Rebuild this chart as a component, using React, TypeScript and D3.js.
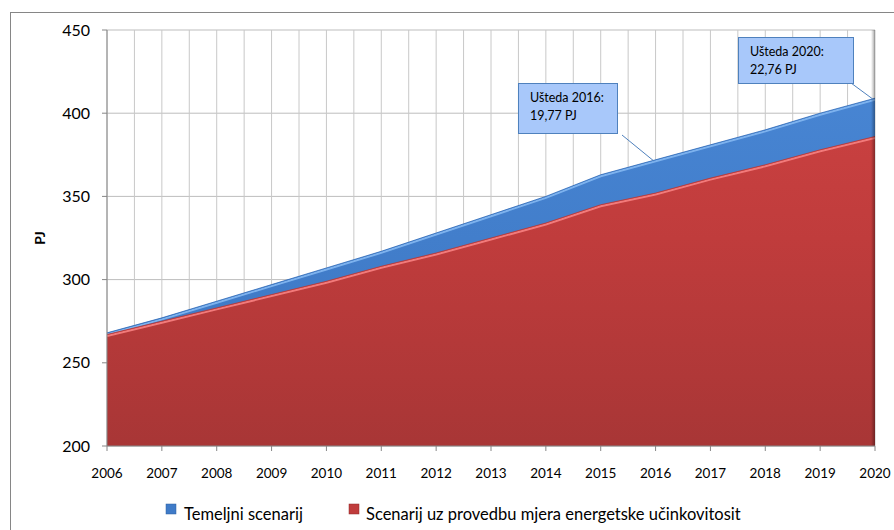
import React from "react";
import * as d3 from "d3";

const years = [2006, 2007, 2008, 2009, 2010, 2011, 2012, 2013, 2014, 2015, 2016, 2017, 2018, 2019, 2020];
const baseline = [268, 277, 287, 297, 307, 317, 328, 339, 350, 363, 372, 381, 390, 400, 409];
const efficiency = [267, 275, 283, 291, 299, 308, 316, 325, 334, 345, 352, 361, 369, 378, 386];
const yTicks = [200, 250, 300, 350, 400, 450];
const seriesNames = ["Temeljni scenarij", "Scenarij uz provedbu mjera energetske učinkovitosit"];
const callouts = [
  { year: 2016, lines: ["Ušteda 2016:", "19,77 PJ"] },
  { year: 2020, lines: ["Ušteda 2020:", "22,76 PJ"] },
];

const FONT = "Lato, 'Open Sans', 'Liberation Sans', sans-serif";

export default function App() {
  const W = 894, H = 530;
  const x0 = 107, x1 = 875, yTop = 30, yBot = 446;
  const x = d3.scaleLinear().domain([2006, 2020]).range([x0, x1]);
  const y = d3.scaleLinear().domain([200, 450]).range([yBot, yTop]);

  const areaB = d3.area<number>().x((_, i) => x(years[i])).y0(y(200)).y1((d) => y(d));
  const lineGen = d3.line<number>().x((_, i) => x(years[i])).y((d) => y(d));

  const half: number[] = [];
  for (let v = 2006; v <= 2020.001; v += 0.5) half.push(v);

  const boxes = [
    { x: 518, y: 83, w: 99, h: 50, lx1: 622, ly1: 135 },
    { x: 738, y: 37, w: 115, h: 46, lx1: 851, ly1: 83 },
  ];

  return (
    <svg width={W} height={H} style={{ position: "absolute", left: 0, top: 0, background: "#fff" }}>
      <defs>
        <linearGradient id="redG" gradientUnits="userSpaceOnUse" x1="0" y1={yTop} x2="0" y2={yBot}>
          <stop offset="0" stopColor="#D04444" />
          <stop offset="0.5" stopColor="#C03C3C" />
          <stop offset="1" stopColor="#A83636" />
        </linearGradient>
        <linearGradient id="blueG" gradientUnits="userSpaceOnUse" x1="0" y1={yTop} x2="0" y2={yBot}>
          <stop offset="0" stopColor="#4A88D6" />
          <stop offset="1" stopColor="#3A74C0" />
        </linearGradient>
        <linearGradient id="shadowG" x1="0" y1="0" x2="1" y2="0">
          <stop offset="0" stopColor="#000" stopOpacity="0" />
          <stop offset="1" stopColor="#000" stopOpacity="0.35" />
        </linearGradient>
        <clipPath id="plotClip">
          <rect x={x0} y={yTop - 5} width={x1 - x0} height={yBot - yTop + 5} />
        </clipPath>
      </defs>

      <rect x={10.5} y={12.5} width={900} height={530} fill="none" stroke="#868686" strokeWidth={1} />

      {yTicks.map((t) => (
        <line key={"h" + t} x1={x0} x2={x1} y1={y(t)} y2={y(t)} stroke="#BDBDBD" strokeWidth={1} />
      ))}
      {half.map((v) => (
        <line key={"v" + v} x1={x(v)} x2={x(v)} y1={yTop} y2={yBot} stroke="#C8C8C8" strokeWidth={1} />
      ))}

      <g clipPath="url(#plotClip)">
        <path d={areaB(baseline) || ""} fill="url(#blueG)" />
        <path d={lineGen(baseline) || ""} fill="none" stroke="#7DB2EE" strokeWidth={2} transform="translate(0,1.5)" />
        <path d={lineGen(baseline) || ""} fill="none" stroke="#2F6AB8" strokeWidth={0.8} />
        <path d={areaB(efficiency) || ""} fill="url(#redG)" />
        <path d={lineGen(efficiency) || ""} fill="none" stroke="#F27A7A" strokeWidth={2} transform="translate(0,1.5)" />
        <path d={lineGen(efficiency) || ""} fill="none" stroke="#B83838" strokeWidth={0.8} />
        <rect x={x1 - 4} y={yTop} width={4} height={yBot - yTop} fill="url(#shadowG)" />
      </g>

      <line x1={x0} x2={x0} y1={yTop} y2={yBot} stroke="#868686" />
      <line x1={x0} x2={x1} y1={yBot} y2={yBot} stroke="#868686" />
      {yTicks.map((t) => (
        <g key={"yt" + t}>
          <line x1={x0 - 5} x2={x0} y1={y(t)} y2={y(t)} stroke="#868686" />
          <text x={90} y={y(t) + 5.5} textAnchor="end" fontFamily={FONT} fontSize={16} fill="#000">{t}</text>
        </g>
      ))}
      {years.map((yr) => (
        <g key={"xt" + yr}>
          <line x1={x(yr)} x2={x(yr)} y1={yBot} y2={yBot + 5} stroke="#868686" />
          <text x={x(yr)} y={478} textAnchor="middle" fontFamily={FONT} fontSize={13.5} fill="#000">{yr}</text>
        </g>
      ))}
      <text transform={`translate(45,238) rotate(-90)`} textAnchor="middle" fontFamily={FONT} fontSize={14} fontWeight="bold">PJ</text>

      {callouts.map((c, i) => {
        const b = boxes[i];
        const ti = years.indexOf(c.year);
        const tx = x(c.year) - 2, ty = y(baseline[ti]) + 1;
        return (
          <g key={"c" + i}>
            <line x1={b.lx1} y1={b.ly1} x2={tx} y2={ty} stroke="#4F81BD" strokeWidth={1} />
            <rect x={b.x + 0.5} y={b.y + 0.5} width={b.w} height={b.h} fill="#A8C8FA" stroke="#4F81BD" strokeWidth={1} />
            {c.lines.map((l, j) => (
              <text key={j} x={b.x + 12} y={b.y + 19 + j * 18} fontFamily={FONT} fontSize={12.5} fill="#000">{l}</text>
            ))}
          </g>
        );
      })}

      <rect x={166} y={504} width={10} height={10} fill="#3F7BC8" stroke="#2F5F9E" strokeWidth={0.5} />
      <text x={184} y={520} fontFamily={FONT} fontSize={16.5}>{seriesNames[0]}</text>
      <rect x={349} y={504} width={10} height={10} fill="#C03C3C" stroke="#8E2A2A" strokeWidth={0.5} />
      <text x={366} y={520} fontFamily={FONT} fontSize={16.5}>{seriesNames[1]}</text>
    </svg>
  );
}
